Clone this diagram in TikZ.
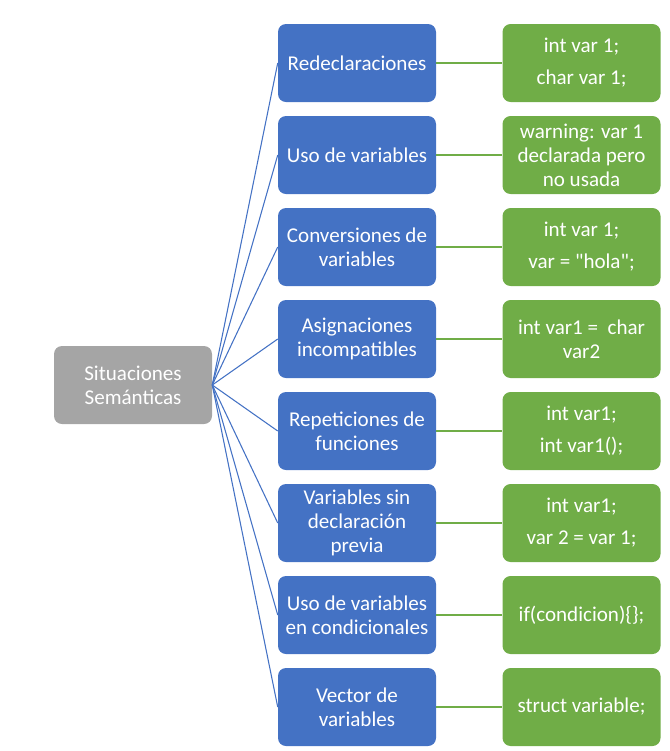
\documentclass[tikz,border=0pt]{standalone}
\usepackage{fontspec}
\setmainfont{Carlito}[Ligatures=TeXOff]
\usetikzlibrary{positioning}
\definecolor{HeadGray}{HTML}{A5A5A5}
\definecolor{TopicBlue}{HTML}{4472C4}
\definecolor{CodeGreen}{HTML}{70AD47}
\tikzset{
  rootbox/.style={rounded corners=6pt, fill=HeadGray, text=white, align=center, minimum width=118.5pt, minimum height=58.5pt, inner sep=0pt},
  topicbox/.style={rounded corners=6pt, fill=TopicBlue, text=white, align=center, minimum width=118.5pt, minimum height=58.5pt, inner sep=0pt},
  codebox/.style={rounded corners=6pt, fill=CodeGreen, text=white, align=center, minimum width=118.5pt, minimum height=58.5pt, inner sep=0pt},
  branch/.style={draw=TopicBlue, line width=0.8pt},
  leaf/.style={draw=CodeGreen, line width=0.8pt}
}

\begin{document}
\begin{tikzpicture}[x=0.75pt, y=-0.75pt, node distance=49.5pt, every node/.style={font=\fontsize{15.8}{18}\selectfont}]
\useasboundingbox (0,0) rectangle (669,751);
\node[rootbox] (root) at (133,385) {Situaciones\\Semánticas};

\node[topicbox] (redecl) at (357,63) {Redeclaraciones};
\node[topicbox] (uso) at (357,155) {Uso de variables};
\node[topicbox] (conv) at (357,247) {Conversiones de\\variables};
\node[topicbox] (asig) at (357,339) {Asignaciones\\incompatibles};
\node[topicbox] (repe) at (357,431) {Repeticiones de\\funciones};
\node[topicbox] (sindecl) at (357,523) {Variables sin\\declaración\\previa};
\node[topicbox] (cond) at (357,615) {Uso de variables\\en condicionales};
\node[topicbox] (vect) at (357,707) {Vector de\\variables};

\node[codebox, right=of redecl] (c1) {int var 1;\\[6pt]char var 1;};
\node[codebox, right=of uso] (c2) {warning: var 1\\declarada pero\\no usada};
\node[codebox, right=of conv] (c3) {int var 1;\\[6pt]var = "hola";};
\node[codebox, right=of asig] (c4) {int var1 =~~char\\var2};
\node[codebox, right=of repe] (c5) {int var1;\\[6pt]int var1();};
\node[codebox, right=of sindecl] (c6) {int var1;\\[6pt]var 2 = var 1;};
\node[codebox, right=of cond] (c7) {if(condicion)\{\};};
\node[codebox, right=of vect] (c8) {struct variable;};

\draw[branch] (root.east) -- (redecl.west);
\draw[branch] (root.east) -- (uso.west);
\draw[branch] (root.east) -- (conv.west);
\draw[branch] (root.east) -- (asig.west);
\draw[branch] (root.east) -- (repe.west);
\draw[branch] (root.east) -- (sindecl.west);
\draw[branch] (root.east) -- (cond.west);
\draw[branch] (root.east) -- (vect.west);

\draw[leaf] (redecl) -- (c1);
\draw[leaf] (uso) -- (c2);
\draw[leaf] (conv) -- (c3);
\draw[leaf] (asig) -- (c4);
\draw[leaf] (repe) -- (c5);
\draw[leaf] (sindecl) -- (c6);
\draw[leaf] (cond) -- (c7);
\draw[leaf] (vect) -- (c8);
\end{tikzpicture}
\end{document}
